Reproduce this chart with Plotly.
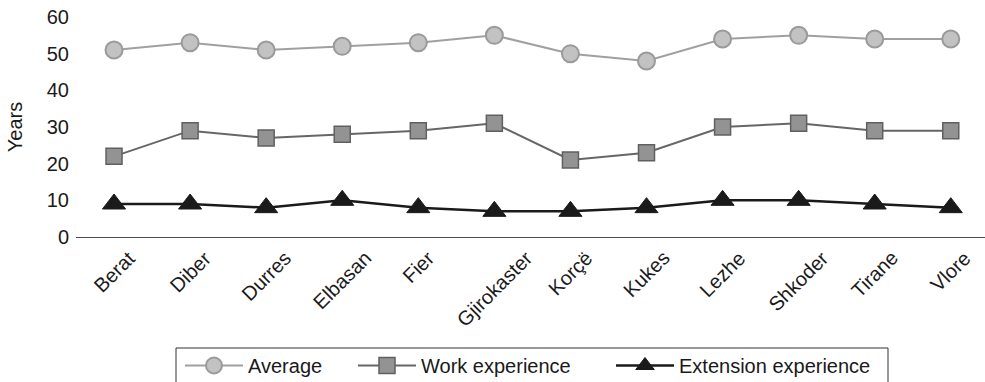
import plotly.graph_objects as go

# Albanian districts along the x axis
districts = ["Berat", "Diber", "Durres", "Elbasan", "Fier", "Gjirokaster",
             "Korçë", "Kukes", "Lezhe", "Shkoder", "Tirane", "Vlore"]

# Years per district
average = [51, 53, 51, 52, 53, 55, 50, 48, 54, 55, 54, 54]
work_experience = [22, 29, 27, 28, 29, 31, 21, 23, 30, 31, 29, 29]
extension_experience = [9, 9, 8, 10, 8, 7, 7, 8, 10, 10, 9, 8]

y_ticks = [0, 10, 20, 30, 40, 50, 60]

FONT = "Liberation Sans, Arial, sans-serif"
SIZE = 20
TXT = "#1a1a1a"

W, H = 985, 382
L, R, T, B = 76, 0, 17, 145
PW, PH = W - L - R, H - T - B


def px_x(p):
    """Pixel column -> paper x."""
    return (p - L) / PW


def px_y(p):
    """Pixel row -> paper y."""
    return (H - B - p) / PH


fig = go.Figure()

fig.add_trace(go.Scatter(
    x=districts, y=average, name="Average", mode="lines+markers",
    legend="legend",
    line=dict(color="#a0a0a0", width=2),
    marker=dict(symbol="circle", size=17, color="#c2c2c2",
                line=dict(color="#9a9a9a", width=2)),
))
fig.add_trace(go.Scatter(
    x=districts, y=work_experience, name="Work experience", mode="lines+markers",
    legend="legend2",
    line=dict(color="#666666", width=2),
    marker=dict(symbol="square", size=16, color="#939393",
                line=dict(color="#606060", width=1.5)),
))
fig.add_trace(go.Scatter(
    x=districts, y=extension_experience, name="Extension experience",
    mode="lines+markers", legend="legend3",
    line=dict(color="#1a1a1a", width=2.5),
    marker=dict(symbol="triangle-up", size=20, color="#1a1a1a",
                line=dict(color="#1a1a1a", width=1)),
))

# Rotated category labels, centred under each point
for name in districts:
    fig.add_annotation(
        x=name, y=0, xref="x", yref="paper", text=name, showarrow=False,
        textangle=-45, xanchor="center", yanchor="top", yshift=-7,
        font=dict(family=FONT, size=SIZE, color=TXT),
    )

# Frame around the legend row
fig.add_shape(
    type="rect", xref="paper", yref="paper",
    x0=px_x(176), x1=px_x(888), y0=px_y(348), y1=px_y(395),
    line=dict(color="#333333", width=1), fillcolor="rgba(0,0,0,0)",
)


def legend_at(px_left):
    return dict(
        orientation="h", x=px_x(px_left), xanchor="left",
        y=px_y(346), yanchor="top", bgcolor="rgba(0,0,0,0)", borderwidth=0,
        font=dict(family=FONT, size=SIZE, color=TXT), itemwidth=58,
    )


fig.update_layout(
    width=W, height=H,
    margin=dict(l=L, r=R, t=T, b=B, autoexpand=False),
    paper_bgcolor="white", plot_bgcolor="white",
    font=dict(family=FONT, size=SIZE, color=TXT),
    showlegend=True,
    legend=legend_at(180),
    legend2=legend_at(353),
    legend3=legend_at(611),
    xaxis=dict(
        type="category", range=[-0.5, 11.45],
        showline=True, linecolor="#4d4d4d", linewidth=1.3,
        showgrid=False, zeroline=False, ticks="", showticklabels=False,
    ),
    yaxis=dict(
        range=[0, 60], tickvals=y_ticks, showgrid=False, zeroline=False,
        showline=False, ticks="", ticklabelstandoff=6,
        tickfont=dict(family=FONT, size=SIZE, color=TXT),
        title=dict(text="Years", standoff=18,
                   font=dict(family=FONT, size=SIZE, color=TXT)),
    ),
)

fig.write_html("out.html")
